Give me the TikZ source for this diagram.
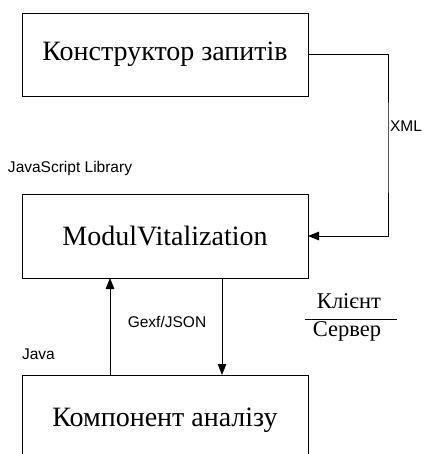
\documentclass[tikz,border=0pt]{standalone}
\usepackage{fontspec}
\setmainfont{Liberation Serif}
\newfontfamily\labelsans{Liberation Sans}
\usetikzlibrary{arrows.meta}
\begin{document}
\begin{tikzpicture}[x=1pt,y=-1pt,
  every node/.style={inner sep=0pt,outer sep=0pt},
  box/.style={draw,line width=0.8pt,minimum width=286pt,font=\fontsize{28}{32}\selectfont},
  openbox/.style={minimum width=286pt,font=\fontsize{28}{32}\selectfont},
  tag/.style={font=\labelsans\fontsize{15.5}{18}\selectfont},
  side/.style={font=\fontsize{22.5}{26}\selectfont},
  conn/.style={line width=0.8pt},
  arr/.style={conn,-{Triangle[length=11pt,width=8.5pt]}}
]
\useasboundingbox (0,0) rectangle (431,454);
\node[box,minimum height=83pt] (box1) at (165,54.5) {Конструктор запитів};
\node[box,minimum height=84pt] (box2) at (165,236) {ModulVitalization};
\node[openbox,minimum height=90pt] (box3) at (165,420) {Компонент аналізу};
\coordinate (bot) at (0,460);
\draw[conn] (box3.north west |- bot) -- (box3.north west) -- (box3.north east) -- (box3.north east |- bot);
% XML connector
\coordinate (xmlc) at (388,150);
\draw[arr] (box1.east) -| (xmlc) |- (box2.east);
\node[tag,anchor=west] (xml) at (390,126) {XML};
% vertical arrows
\coordinate (upx) at (110,0);
\coordinate (dnx) at (222,0);
\draw[arr] (box3.north -| upx) -- (box2.south -| upx);
\draw[arr] (box2.south -| dnx) -- (box3.north -| dnx);
\node[tag] (gexf) at (167,321.5) {Gexf/JSON};
\node[tag,anchor=west] (js) at (8,168.5) {JavaScript Library};
\node[tag,anchor=west] (java) at (22,354.5) {Java};
% client / server
\node[side] (client) at (349,301) {Клієнт};
\node[side] (server) at (347,331) {Сервер};
\coordinate (rl) at (305,319);
\coordinate (rr) at (397,319);
\draw[line width=0.8pt] (rl) -- (rr);
\end{tikzpicture}
\end{document}
